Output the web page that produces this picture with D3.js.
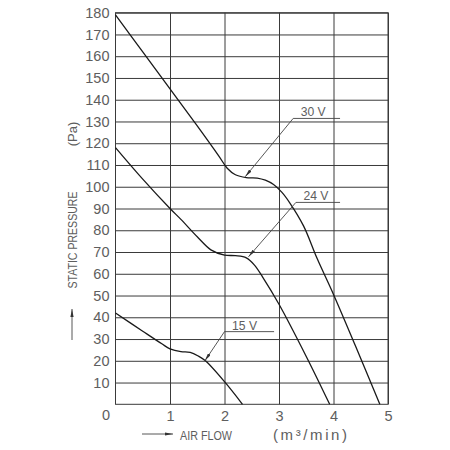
<!DOCTYPE html>
<html>
<head>
<meta charset="utf-8">
<script src="https://cdn.jsdelivr.net/npm/d3@7"></script>
<style>
body { margin: 0; background: #fff; }
text { font-family: "Liberation Sans", Arial, sans-serif; fill: #5e5e5e; }
</style>
</head>
<body>
<div id="chart"></div>
<script>
// fan curves (air flow m3/min, static pressure Pa)
var curve30 = [[0,179],[0.5,162],[1,145],[1.5,128],[1.9,114],[2.05,108.5],[2.2,105.5],[2.4,104.2],
	[2.6,104],[2.75,103],[2.9,101],[3.05,97.5],[3.2,92.5],[3.45,82],[3.7,67],[4,50.5],[4.4,27],[4.85,0]];
var curve24 = [[0,118],[0.5,103.5],[1,90],[1.2,85],[1.5,77],[1.75,71],[2,68.6],[2.2,68.3],[2.4,67.3],
	[2.55,64],[2.7,58.5],[3,46],[3.5,22],[3.93,0]];
var curve15 = [[0,42],[0.5,33.6],[0.85,27.8],[1,25.5],[1.2,24.2],[1.37,23.9],[1.52,22.2],[1.65,20],
	[2,10.4],[2.33,0]];

var labels = ["30 V", "24 V", "15 V"];
var labelTips = [[2.38,104.6],[2.44,67.8],[1.64,20]];     // where the arrows point
var labelElbows = [[3.26,131.4],[3.31,92.8],[2.0,33.4]];  // start of the horizontal leader
var labelEnds = [4.12, 4.12, 2.91];

var xTicks = [1, 2, 3, 4, 5];
var yTicks = d3.range(10, 190, 10);

var WIDTH = 450, HEIGHT = 450, MARGINS = { top: 12.7, right: 62, bottom: 46, left: 115.5 };

var svg = d3.select('#chart').append('svg').attr('width', WIDTH).attr('height', HEIGHT);

var xScale = d3.scaleLinear().domain([0, 5]).range([MARGINS.left, WIDTH - MARGINS.right]);
var yScale = d3.scaleLinear().domain([0, 180]).range([HEIGHT - MARGINS.bottom + 0.3, MARGINS.top]);
var pw = xScale(5) - xScale(0), ph = yScale(0) - yScale(180);

svg.append('defs').append('marker').attr('id', 'arr').attr('viewBox', '0 0 10 4')
	.attr('refX', 10).attr('refY', 2).attr('markerWidth', 8).attr('markerHeight', 3.2)
	.attr('markerUnits', 'userSpaceOnUse').attr('orient', 'auto')
	.append('path').attr('d', 'M0,0 L10,2 L0,4 Z').attr('fill', '#333');

// grid + labels
var gY = svg.append('g').attr('transform', 'translate(' + MARGINS.left + ',0)')
	.call(d3.axisLeft(yScale).tickValues(yTicks).tickSize(-pw).tickPadding(6));
var gX = svg.append('g').attr('transform', 'translate(0,' + yScale(0) + ')')
	.call(d3.axisBottom(xScale).tickValues(xTicks).tickSize(-ph).tickPadding(6)
		.tickFormat(d3.format('d')));
[gX, gY].forEach(function(g) {
	g.select('.domain').remove();
	g.selectAll('line').attr('stroke', '#3a3a3a').attr('stroke-width', 1);
	g.selectAll('text').style('font-size', '14.5px').attr('fill', '#5e5e5e');
});
svg.append('rect').attr('x', xScale(0)).attr('y', yScale(180)).attr('width', pw).attr('height', ph)
	.attr('fill', 'none').attr('stroke', '#3a3a3a').attr('stroke-width', 1);
svg.append('text').attr('x', 106).attr('y', 420).attr('text-anchor', 'middle')
	.style('font-size', '14.5px').text('0');

// curves
var lineGen = d3.line().curve(d3.curveCatmullRom.alpha(0.5))
	.x(function(d) { return xScale(d[0]); })
	.y(function(d) { return yScale(d[1]); });
[curve30, curve24, curve15].forEach(function(c) {
	svg.append('path').attr('d', lineGen(c)).attr('fill', 'none')
		.attr('stroke', '#1a1a1a').attr('stroke-width', 1.3);
});

// leaders and voltage labels
labels.forEach(function(t, i) {
	var e = labelElbows[i], p = labelTips[i];
	svg.append('line').attr('x1', xScale(e[0])).attr('y1', yScale(e[1]))
		.attr('x2', xScale(labelEnds[i])).attr('y2', yScale(e[1]))
		.attr('stroke', '#444').attr('stroke-width', 0.9);
	svg.append('line').attr('x1', xScale(e[0])).attr('y1', yScale(e[1]))
		.attr('x2', xScale(p[0])).attr('y2', yScale(p[1]))
		.attr('stroke', '#444').attr('stroke-width', 0.9).attr('marker-end', 'url(#arr)');
	svg.append('text').attr('x', xScale(e[0]) + 7.5).attr('y', yScale(e[1]) - 2)
		.attr('textLength', 25).attr('lengthAdjust', 'spacingAndGlyphs')
		.style('font-size', '13px').text(t);
});

// axis titles
svg.append('text').attr('transform', 'translate(77,240) rotate(-90)').attr('text-anchor', 'middle')
	.attr('textLength', 97).attr('lengthAdjust', 'spacingAndGlyphs')
	.style('font-size', '12px').text('STATIC PRESSURE');
svg.append('text').attr('transform', 'translate(76.5,134) rotate(-90)').attr('text-anchor', 'middle')
	.style('font-size', '13px').text('(Pa)');
svg.append('line').attr('x1', 72).attr('y1', 340).attr('x2', 72).attr('y2', 309)
	.attr('stroke', '#444').attr('stroke-width', 0.9).attr('marker-end', 'url(#arr)');
svg.append('line').attr('x1', 142).attr('y1', 434).attr('x2', 173).attr('y2', 434)
	.attr('stroke', '#444').attr('stroke-width', 0.9).attr('marker-end', 'url(#arr)');
svg.append('text').attr('x', 180).attr('y', 440).attr('textLength', 52)
	.attr('lengthAdjust', 'spacingAndGlyphs').style('font-size', '12px').text('AIR FLOW');
svg.append('text').attr('x', 273).attr('y', 440).attr('textLength', 74)
	.attr('lengthAdjust', 'spacing').style('font-size', '15px').attr('fill', '#666').text('(m³/min)');
</script>
</body>
</html>
